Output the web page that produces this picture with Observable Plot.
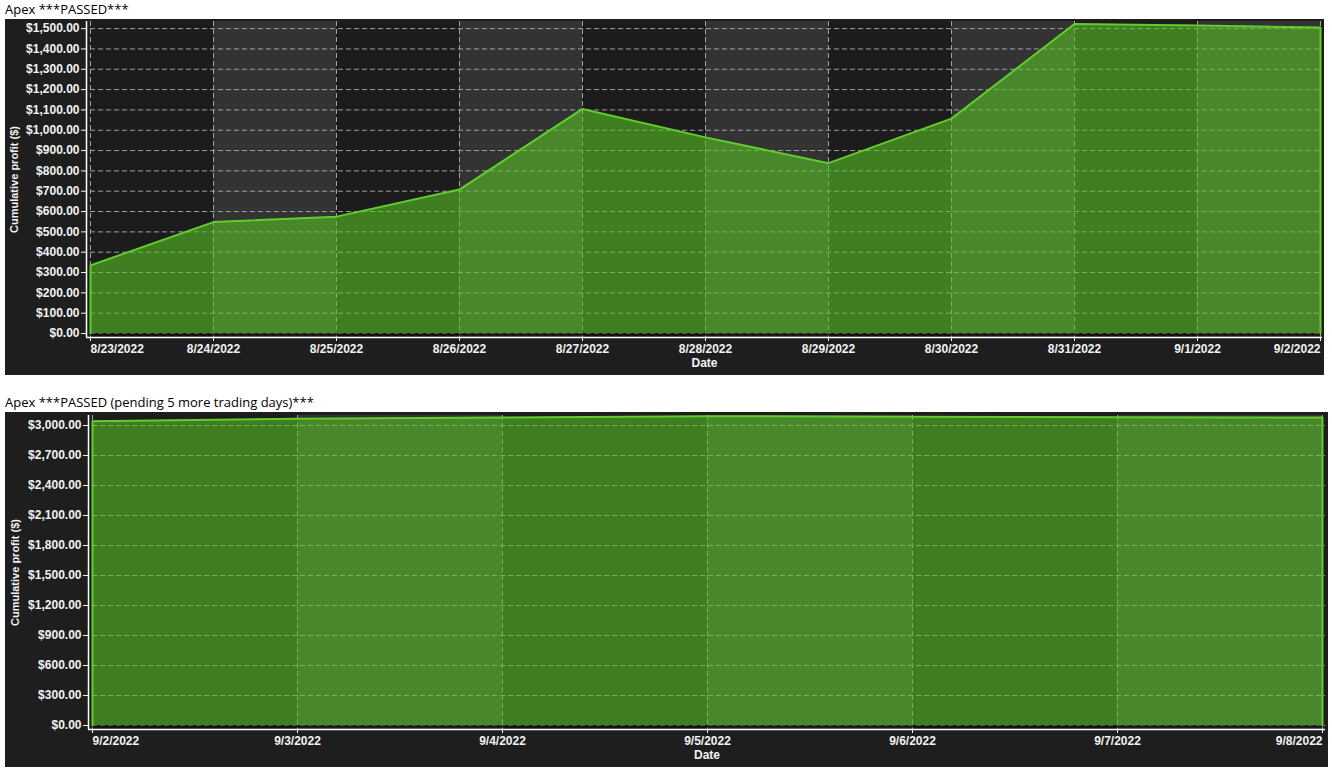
<!DOCTYPE html>
<html><head><meta charset="utf-8">
<script src="https://cdn.jsdelivr.net/npm/d3@7"></script>
<script src="https://cdn.jsdelivr.net/npm/@observablehq/plot@0.6"></script>
<style>
body{margin:0;background:#fff;}
.block{margin-left:5px;}
.title{font-family:"Open Sans",sans-serif;font-size:13px;line-height:19px;height:19px;color:#000;white-space:nowrap;}
svg{display:block}
</style></head><body>
<div class="block" id="c1"><div class="title">Apex ***PASSED***</div></div>
<div class="block" id="c2" style="margin-top:18px"><div class="title">Apex ***PASSED (pending 5 more trading days)***</div></div>
<script>
// Chart 1 data
const dates1 = ["2022-08-23","2022-08-24","2022-08-25","2022-08-26","2022-08-27","2022-08-28","2022-08-29","2022-08-30","2022-08-31","2022-09-01","2022-09-02"];
const values1 = [335, 548, 575, 708, 1105, 965, 838, 1057, 1523, 1515, 1505];
const yTicks1 = [0,100,200,300,400,500,600,700,800,900,1000,1100,1200,1300,1400,1500];
// Chart 2 data
const dates2 = ["2022-09-02","2022-09-03","2022-09-04","2022-09-05","2022-09-06","2022-09-07","2022-09-08"];
const values2 = [3043, 3067, 3080, 3093, 3088, 3083, 3080];
const yTicks2 = [0,300,600,900,1200,1500,1800,2100,2400,2700,3000];

const fmtDate = d => `${d.getUTCMonth()+1}/${d.getUTCDate()}/${d.getUTCFullYear()}`;
const fmtMoney = d3.format("$,.2f");

function chart(o) {
  const pts = o.dates.map((d,i)=>({date:new Date(d+"T00:00:00Z"), value:o.values[i]}));
  const n = pts.length;
  const stripes = pts.slice(0,-1).map((p,i)=>({x1:p.date, x2:pts[i+1].date, light:i%2===1}));
  const outline = [{date:pts[0].date, value:0}, ...pts, {date:pts[n-1].date, value:0}];
  const grid = {stroke:"#a0a0a0", strokeDasharray:"5,3", strokeWidth:1};
  const lbl = {x:"date", text:d=>fmtDate(d.date), frameAnchor:"bottom", dy:7, lineAnchor:"top"};
  return Plot.plot({
    width:o.width, height:o.height,
    marginLeft:o.marginLeft, marginRight:o.marginRight, marginTop:o.marginTop, marginBottom:o.marginBottom,
    style:{background:"#1e1e1e", color:"#f2f2f2", fontFamily:"'Liberation Sans', Arial, sans-serif", fontSize:"12px", fontWeight:"bold", overflow:"visible"},
    x:{type:"utc", domain:[pts[0].date, pts[n-1].date], insetLeft:o.insetL, insetRight:o.insetR, ticks:pts.map(p=>p.date), tickFormat:()=>"", tickSize:4, label:null},
    y:{domain:[0,o.yMax], insetBottom:4, ticks:o.yTicks, tickFormat:fmtMoney, tickSize:5, tickPadding:2, label:null},
    marks:[
      Plot.rect(stripes, {x1:"x1", x2:"x2", fill:d=>d.light?"#333333":"#1c1c1c"}),
      Plot.ruleY(o.yTicks, {...grid, insetLeft:o.insetL}),
      Plot.ruleX(pts, {...grid, x:"date"}),
      Plot.areaY(pts, {x:"date", y:"value", fill:"#56c024", fillOpacity:0.6}),
      Plot.ruleY([0], {stroke:"#0d0d0d", strokeWidth:2, dy:1, insetLeft:o.insetL, insetRight:o.insetR}),
      Plot.line(outline, {x:"date", y:"value", stroke:"#62cc2c", strokeWidth:2}),
      Plot.ruleX([pts[0].date], {dx:-o.insetL, stroke:"#ffffff", strokeWidth:1.5}),
      Plot.ruleY([0], {dy:4, stroke:"#ffffff", strokeWidth:1.5}),
      Plot.text(pts.slice(1,-1), lbl),
      Plot.text([pts[0]], {...lbl, textAnchor:"start"}),
      Plot.text([pts[n-1]], {...lbl, textAnchor:"end"}),
      Plot.text(["Date"], {frameAnchor:"bottom", dy:26, lineAnchor:"middle", textAnchor:"middle"}),
      Plot.text(["Cumulative profit ($)"], {frameAnchor:"left", dx:o.labelDx, rotate:-90, textAnchor:"middle", lineAnchor:"middle", fontSize:11})
    ]
  });
}

document.getElementById("c1").append(chart({
  dates:dates1, values:values1, yTicks:yTicks1, yMax:1535,
  width:1319, height:356, marginLeft:81, marginRight:2, marginTop:2, marginBottom:38,
  insetL:4, insetR:2, labelDx:-72
}));
document.getElementById("c2").append(chart({
  dates:dates2, values:values2, yTicks:yTicks2, yMax:3100,
  width:1323, height:355, marginLeft:83, marginRight:3, marginTop:3, marginBottom:38,
  insetL:4, insetR:3, labelDx:-73
}));
</script>
</body></html>
